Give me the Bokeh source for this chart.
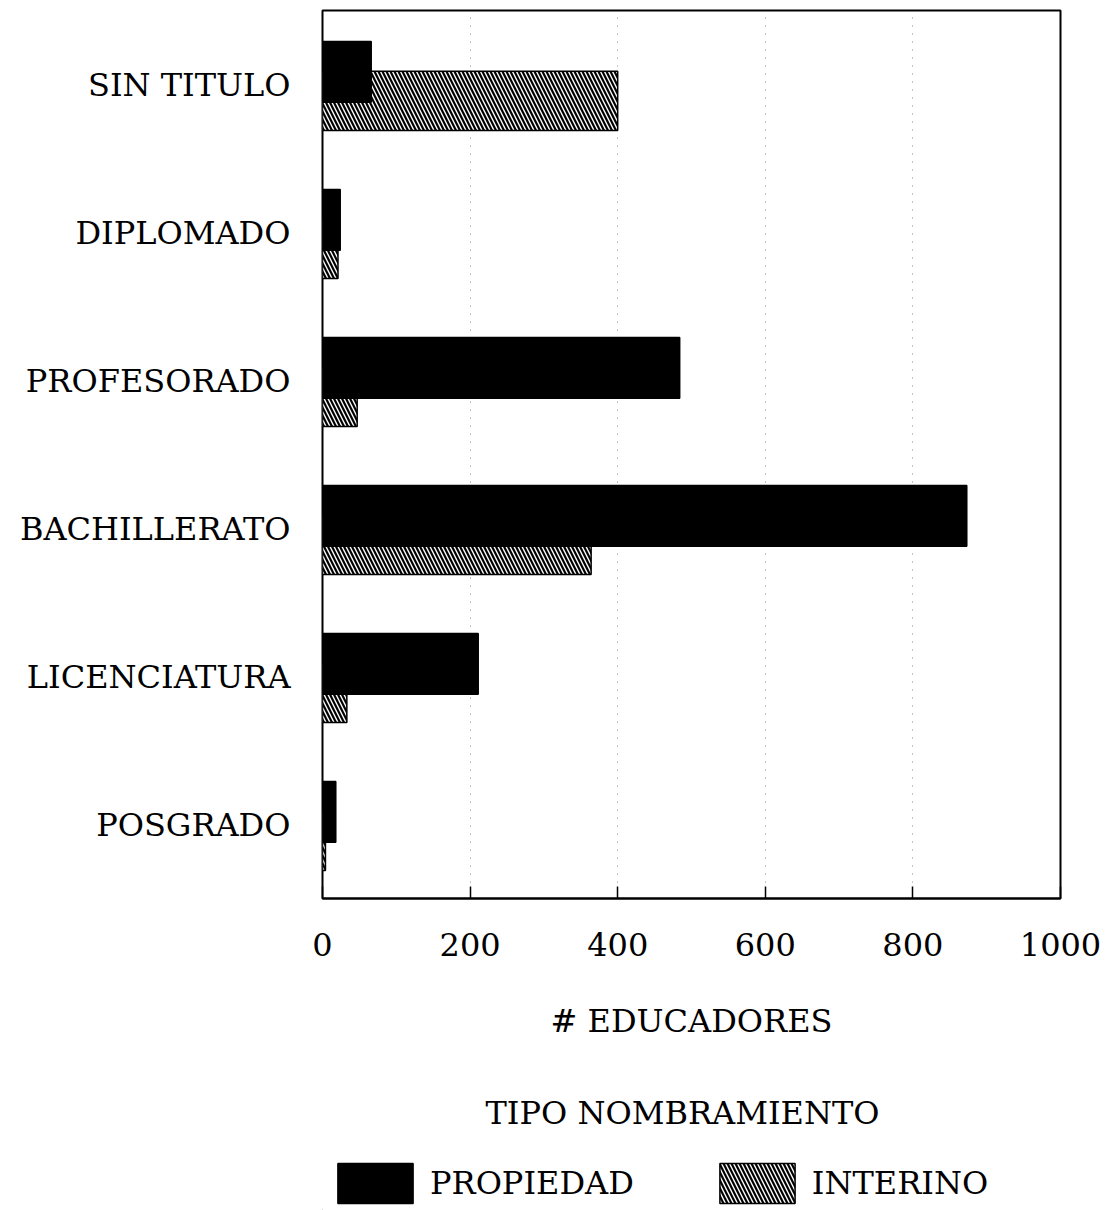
from bokeh.plotting import figure
from bokeh.models import (FactorRange, Range1d, Legend, LegendItem, FixedTicker,
                          ColumnDataSource, Label)
from bokeh.transform import dodge
from bokeh.layouts import column
from bokeh.embed import file_html
from bokeh.resources import INLINE

categories = ["SIN TITULO", "DIPLOMADO", "PROFESORADO", "BACHILLERATO", "LICENCIATURA", "POSGRADO"]
propiedad = [66, 24, 484, 873, 211, 18]
interino = [400, 21, 47, 364, 33, 4]
x_ticks = [0, 200, 400, 600, 800, 1000]
series_names = ["PROPIEDAD", "INTERINO"]
legend_title = "TIPO NOMBRAMIENTO"
x_title = "# EDUCADORES"

FONT = "DejaVu Serif"
FS = "32px"

PROP_STYLE = dict(fill_color="black", line_color="black", line_width=1.5)
INT_STYLE = dict(fill_color="white", line_color="black", line_width=1.5,
                 hatch_pattern="\\", hatch_color="black", hatch_scale=8, hatch_weight=2.2)

BL, FW, BR = 322, 738, 46

p = figure(frame_width=FW, frame_height=888,
           y_range=FactorRange(factors=categories[::-1]),
           x_range=Range1d(0, 1000),
           output_backend="svg", toolbar_location=None,
           min_border_left=BL, min_border_right=BR,
           min_border_top=10, min_border_bottom=172)

source = ColumnDataSource(dict(cat=categories, prop=propiedad, inter=interino))

p.hbar(y=dodge("cat", -0.11, range=p.y_range), left=0, right="inter", height=0.40,
       source=source, **INT_STYLE)
p.hbar(y=dodge("cat", 0.085, range=p.y_range), left=0, right="prop", height=0.41,
       source=source, **PROP_STYLE)

p.outline_line_color = "black"
p.outline_line_width = 2

p.ygrid.visible = False
p.xgrid.grid_line_color = "#8c8c8c"
p.xgrid.grid_line_dash = "1 7"
p.xgrid.grid_line_width = 1
p.xgrid.ticker = FixedTicker(ticks=x_ticks)

xa = p.xaxis[0]
xa.ticker = FixedTicker(ticks=x_ticks)
xa.major_tick_in = 12
xa.major_tick_out = 0
xa.minor_tick_in = 0
xa.minor_tick_out = 0
xa.axis_line_color = "black"
xa.axis_line_width = 2
xa.major_tick_line_color = "black"
xa.major_tick_line_width = 1.5
xa.major_label_standoff = 34
xa.major_label_text_font = FONT
xa.major_label_text_font_size = FS
xa.major_label_text_color = "black"
xa.axis_label = x_title
xa.axis_label_text_font = FONT
xa.axis_label_text_font_size = FS
xa.axis_label_text_font_style = "normal"
xa.axis_label_text_color = "black"
xa.axis_label_standoff = 43

ya = p.yaxis[0]
ya.major_tick_in = 0
ya.major_tick_out = 0
ya.axis_line_color = None
ya.major_label_standoff = 32
ya.major_label_text_font = FONT
ya.major_label_text_font_size = FS
ya.major_label_text_color = "black"

# Legend panel: a separate figure below the chart; its frame is aligned with the
# chart's frame, and its x range is set so that data x equals page pixel x.
p2 = figure(frame_width=FW, frame_height=140,
            x_range=Range1d(BL, BL + FW), y_range=Range1d(0, 140),
            output_backend="svg", toolbar_location=None,
            min_border_left=BL, min_border_right=BR, min_border_top=0, min_border_bottom=0,
            x_axis_location=None, y_axis_location=None, outline_line_color=None)
p2.xgrid.visible = False
p2.ygrid.visible = False

# legend proxies (kept outside the visible range)
lr_prop = p2.hbar(y=[-1000], left=[0], right=[1], height=1, **PROP_STYLE)
lr_int = p2.hbar(y=[-1000], left=[0], right=[1], height=1, **INT_STYLE)

p2.add_layout(Label(x=682, y=98, text=legend_title, text_align="center",
                    text_baseline="middle", text_font=FONT, text_font_size=FS,
                    text_color="black"))

legend = Legend(items=[LegendItem(label=series_names[0], renderers=[lr_prop]),
                       LegendItem(label=series_names[1], renderers=[lr_int])],
                orientation="horizontal", location=(328 - BL, 2),
                glyph_width=94, glyph_height=50, label_standoff=8, spacing=76,
                border_line_color=None, background_fill_alpha=0,
                label_text_font=FONT, label_text_font_size=FS, label_text_color="black",
                padding=0, margin=0)
p2.add_layout(legend)

layout = column(p, p2, spacing=0)
open("out.html", "w").write(file_html(layout, INLINE))
